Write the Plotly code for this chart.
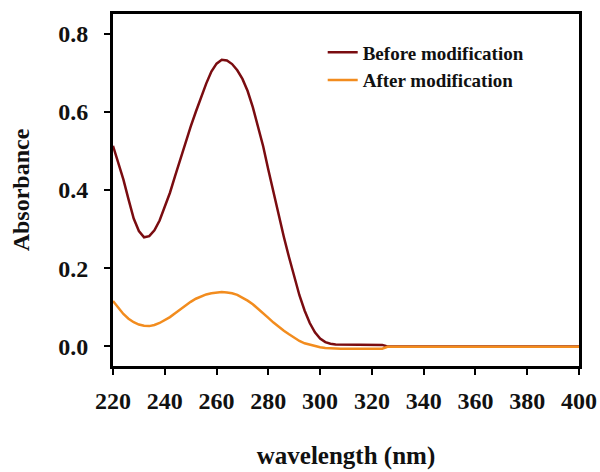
import plotly.graph_objects as go

# UV-Vis absorbance spectra, sampled every 2 nm over the band region
wavelength = list(range(220, 326, 2)) + [326, 340, 360, 380, 400]

before_abs = [0.513, 0.472, 0.427, 0.376, 0.327, 0.295, 0.279, 0.282, 0.297, 0.322,
              0.356, 0.393, 0.436, 0.479, 0.521, 0.562, 0.600, 0.637, 0.672, 0.703,
              0.723, 0.733, 0.731, 0.722, 0.706, 0.684, 0.653, 0.612, 0.563, 0.512,
              0.452, 0.392, 0.335, 0.280, 0.228, 0.178, 0.131, 0.092, 0.060, 0.036,
              0.020, 0.011, 0.007, 0.005, 0.005, 0.004, 0.004, 0.005, 0.004, 0.005,
              0.004, 0.004, 0.004,
              0.000, 0.000, 0.000, 0.000, 0.000]

after_abs = [0.116, 0.098, 0.083, 0.071, 0.062, 0.056, 0.053, 0.052, 0.055, 0.060,
             0.067, 0.075, 0.085, 0.095, 0.105, 0.114, 0.122, 0.128, 0.133, 0.136,
             0.138, 0.139, 0.138, 0.136, 0.132, 0.125, 0.117, 0.108, 0.097, 0.086,
             0.073, 0.061, 0.050, 0.040, 0.031, 0.022, 0.014, 0.008, 0.004, 0.001,
             -0.002, -0.004, -0.005, -0.006, -0.006, -0.006, -0.006, -0.006, -0.006, -0.006,
             -0.006, -0.006, -0.006,
             -0.001, -0.001, -0.001, -0.001, -0.001]

x_ticks = [220, 240, 260, 280, 300, 320, 340, 360, 380, 400]
y_ticks = [0.0, 0.2, 0.4, 0.6, 0.8]

SERIF = "Liberation Serif"
INK = "#111111"

fig = go.Figure()
fig.add_trace(go.Scatter(x=wavelength, y=before_abs, mode="lines",
                         name="Before modification",
                         line=dict(color="#7a0c10", width=2.5)))
fig.add_trace(go.Scatter(x=wavelength, y=after_abs, mode="lines",
                         name="After modification",
                         line=dict(color="#f28c1e", width=2.5)))

axis_common = dict(showline=True, linecolor="black", linewidth=3, mirror=True,
                   ticks="outside", ticklen=6, tickwidth=1.5, tickcolor="black",
                   showgrid=False, zeroline=False, automargin=False,
                   tickfont=dict(family=SERIF, size=24, color=INK, weight="bold"))

fig.update_xaxes(range=[220, 400], tickvals=x_ticks, ticklabelstandoff=5, **axis_common,
                 title=dict(text="wavelength (nm)", standoff=34,
                            font=dict(family=SERIF, size=25, color=INK, weight="bold")))
fig.update_yaxes(range=[-0.05, 0.85], tickvals=y_ticks, tickformat=".1f",
                 ticklabelstandoff=11, **axis_common,
                 title=dict(text="Absorbance", standoff=22,
                            font=dict(family=SERIF, size=24, color=INK, weight="bold")))

fig.update_layout(
    width=600, height=472,
    margin=dict(l=113, r=21, t=14, b=106),
    plot_bgcolor="white", paper_bgcolor="white",
    legend=dict(x=0.45, y=0.945, xanchor="left", yanchor="top",
                bgcolor="rgba(0,0,0,0)",
                font=dict(family=SERIF, size=19, color=INK, weight="bold")),
)

fig.write_html("out.html")
